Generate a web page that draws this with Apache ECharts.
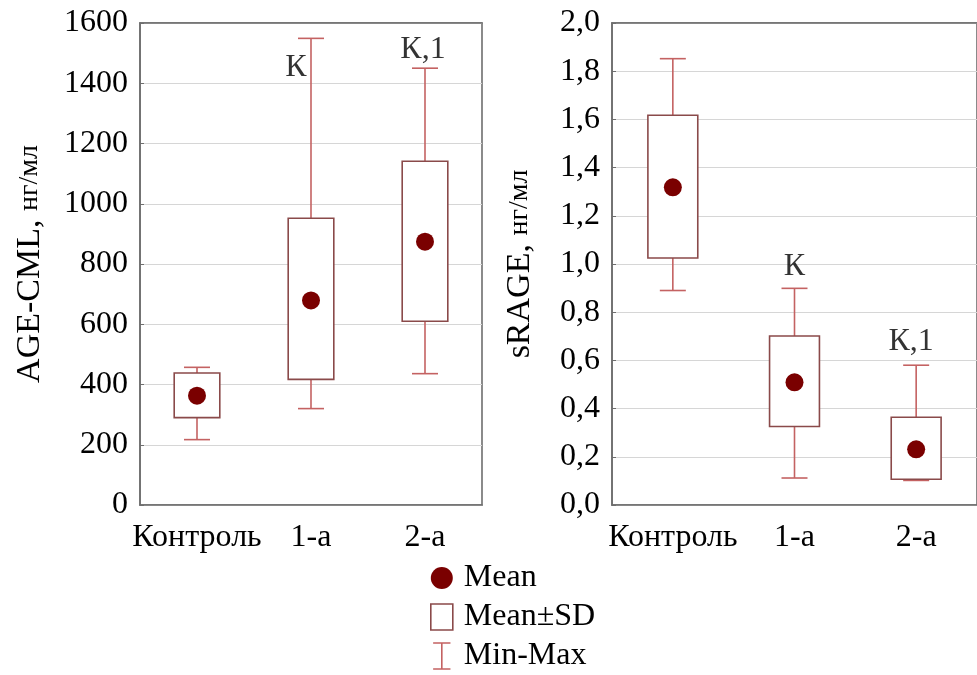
<!DOCTYPE html>
<html>
<head>
<meta charset="utf-8">
<script src="https://cdn.jsdelivr.net/npm/echarts@6/dist/echarts.min.js"></script>
<style>
html,body{margin:0;padding:0;background:#fff;}
#chart{width:977px;height:675px;}
</style>
</head>
<body>
<div id="chart"></div>
<script>
// ---- data ----
var categories = ['Контроль', '1-а', '2-а'];

// Left panel: AGE-CML, нг/мл
var ageMean = [363, 679, 874];
var ageSdLow = [290, 417, 610];
var ageSdHigh = [438, 952, 1141];
var ageMin = [217, 320, 436];
var ageMax = [457, 1549, 1450];
var ageNotes = ['', 'К', 'К,1'];
var ageTicks = [0, 200, 400, 600, 800, 1000, 1200, 1400, 1600];

// Right panel: sRAGE, нг/мл
var sragMean = [1.318, 0.509, 0.231];
var sragSdLow = [1.025, 0.326, 0.107];
var sragSdHigh = [1.617, 0.701, 0.364];
var sragMin = [0.890, 0.112, 0.102];
var sragMax = [1.852, 0.899, 0.580];
var sragNotes = ['', 'К', 'К,1'];
var sragTicks = [0, 0.2, 0.4, 0.6, 0.8, 1.0, 1.2, 1.4, 1.6, 1.8, 2.0];

// ---- styles ----
var SERIF = '"Liberation Serif","DejaVu Serif",serif';
var BOX_COLOR = '#8a4a4a';
var WHISK_COLOR = '#c46262';
var MEAN_COLOR = '#7a0000';
var AXIS_COLOR = '#6e6e6e';
var TEXT_COLOR = '#000000';
var FS = 32;

function whiskerRender() {
  return function (params, api) {
    var i = api.value(0);
    var pMax = api.coord([i, api.value(1)]);
    var pMin = api.coord([i, api.value(2)]);
    var pHi = api.coord([i, api.value(3)]);
    var pLo = api.coord([i, api.value(4)]);
    var capW = 26;
    var st = {stroke: WHISK_COLOR, lineWidth: 1.6, fill: null};
    return {
      type: 'group',
      children: [
        {type: 'line', shape: {x1: pMax[0], y1: pMax[1], x2: pHi[0], y2: pHi[1]}, style: st},
        {type: 'line', shape: {x1: pLo[0], y1: pLo[1], x2: pMin[0], y2: pMin[1]}, style: st},
        {type: 'line', shape: {x1: pMax[0] - capW / 2, y1: pMax[1], x2: pMax[0] + capW / 2, y2: pMax[1]}, style: st},
        {type: 'line', shape: {x1: pMin[0] - capW / 2, y1: pMin[1], x2: pMin[0] + capW / 2, y2: pMin[1]}, style: st}
      ]
    };
  };
}

function boxRender(frac) {
  return function (params, api) {
    var i = api.value(0);
    var pHi = api.coord([i, api.value(1)]);
    var pLo = api.coord([i, api.value(2)]);
    var band = api.size([1, 0])[0];
    var w = band * frac;
    return {
      type: 'rect',
      shape: {x: pHi[0] - w / 2, y: pHi[1], width: w, height: pLo[1] - pHi[1]},
      style: {fill: '#ffffff', stroke: BOX_COLOR, lineWidth: 1.6}
    };
  };
}

function build(mins, maxs, lows, highs) {
  var w = [], b = [];
  for (var i = 0; i < categories.length; i++) {
    w.push([i, maxs[i], mins[i], highs[i], lows[i]]);
    b.push([i, highs[i], lows[i]]);
  }
  return {w: w, b: b};
}

var L = build(ageMin, ageMax, ageSdLow, ageSdHigh);
var R = build(sragMin, sragMax, sragSdLow, sragSdHigh);

// label offsets relative to max whisker end (layout only)
var ageNoteOffsets = [[0, 0], [-15, 29], [-2, -19]];
var sragNoteOffsets = [[0, 0], [0, -22], [-5, -24]];

function noteData(maxs, notes, offs) {
  var d = [];
  for (var i = 0; i < categories.length; i++) {
    if (!notes[i]) continue;
    d.push({
      value: [i, maxs[i]],
      label: {formatter: notes[i], offset: offs[i]}
    });
  }
  return d;
}

var labelStyle = {fontFamily: SERIF, fontSize: FS, color: TEXT_COLOR};

function xAxisCfg(gi) {
  return {
    type: 'category', gridIndex: gi, data: categories,
    axisLine: {lineStyle: {color: AXIS_COLOR, width: 1.6}},
    axisTick: {inside: true, alignWithLabel: true, length: 4, lineStyle: {color: AXIS_COLOR}},
    axisLabel: {fontFamily: SERIF, fontSize: FS, color: TEXT_COLOR, margin: 17, interval: 0},
    splitLine: {show: false}
  };
}
function xTopCfg(gi) {
  return {
    type: 'category', gridIndex: gi, data: categories, position: 'top',
    axisLine: {lineStyle: {color: AXIS_COLOR, width: 1.6}},
    axisTick: {inside: true, alignWithLabel: true, length: 4, lineStyle: {color: AXIS_COLOR}},
    axisLabel: {show: false},
    splitLine: {show: false}
  };
}

var titleRich = {
  a: {fontFamily: SERIF, fontSize: 34, color: TEXT_COLOR},
  b: {fontFamily: SERIF, fontSize: 28, color: TEXT_COLOR}
};

var option = {
  backgroundColor: '#ffffff',
  animation: false,
  grid: [
    {left: 140, right: 495, top: 23, bottom: 170, show: true, borderColor: AXIS_COLOR, borderWidth: 1.6, containLabel: false},
    {left: 612, right: -5, top: 23, bottom: 170, show: true, borderColor: AXIS_COLOR, borderWidth: 1.6, containLabel: false}
  ],
  xAxis: [xAxisCfg(0), xAxisCfg(1), xTopCfg(0), xTopCfg(1)],
  yAxis: [
    {
      type: 'value', gridIndex: 0, min: 0, max: 1600, interval: 200,
      name: '{a|AGE-CML, }{b|нг/мл}', nameLocation: 'middle', nameGap: 93, nameRotate: 90,
      nameTextStyle: {rich: titleRich},
      axisLine: {show: true, lineStyle: {color: AXIS_COLOR, width: 1.6}},
      axisTick: {show: true, inside: true, length: 4, lineStyle: {color: AXIS_COLOR}},
      axisLabel: {fontFamily: SERIF, fontSize: FS, color: TEXT_COLOR, margin: 12,
        formatter: function (v) { return ageTicks.indexOf(v) >= 0 ? String(v) : ''; }},
      splitLine: {show: true, lineStyle: {color: '#d6d6d6', width: 1}}
    },
    {
      type: 'value', gridIndex: 1, min: 0, max: 2, interval: 0.2,
      name: '{a|sRAGE, }{b|нг/мл}', nameLocation: 'middle', nameGap: 75, nameRotate: 90,
      nameTextStyle: {rich: titleRich},
      axisLine: {show: true, lineStyle: {color: AXIS_COLOR, width: 1.6}},
      axisTick: {show: true, inside: true, length: 4, lineStyle: {color: AXIS_COLOR}},
      axisLabel: {fontFamily: SERIF, fontSize: FS, color: TEXT_COLOR, margin: 12,
        formatter: function (v) {
          var r = Math.round(v * 10) / 10;
          return sragTicks.indexOf(r) >= 0 ? r.toFixed(1).replace('.', ',') : '';
        }},
      splitLine: {show: true, lineStyle: {color: '#d6d6d6', width: 1}}
    }
  ],
  legend: {
    orient: 'vertical', left: 430, top: 561, padding: 0,
    itemWidth: 22, itemHeight: 26, itemGap: 5,
    height: 140,
    textStyle: {fontFamily: SERIF, fontSize: 32, lineHeight: 34, color: TEXT_COLOR, padding: [0, 0, 0, 6]},
    selectedMode: false,
    data: [
      {name: 'Mean', icon: 'path://M0,0 m-9,0 a9,9 0 1,0 18,0 a9,9 0 1,0 -18,0 Z', itemStyle: {color: MEAN_COLOR, opacity: 1}},
      {name: 'Mean±SD', icon: 'rect', itemStyle: {color: '#ffffff', borderColor: BOX_COLOR, borderWidth: 1.6}},
      {name: 'Min-Max', icon: 'path://M0,0 L20,0 M10,0 L10,30 M0,30 L20,30', itemStyle: {color: 'none', borderColor: WHISK_COLOR, borderWidth: 1.6}}
    ]
  },
  series: [
    {name: 'Min-Max', type: 'custom', xAxisIndex: 0, yAxisIndex: 0, renderItem: whiskerRender(), data: L.w, itemStyle: {color: WHISK_COLOR}, z: 2},
    {name: 'Mean±SD', type: 'custom', xAxisIndex: 0, yAxisIndex: 0, renderItem: boxRender(0.4), data: L.b, itemStyle: {color: BOX_COLOR}, z: 3},
    {name: 'Mean', type: 'scatter', xAxisIndex: 0, yAxisIndex: 0, data: ageMean.map(function (v, i) { return [i, v]; }),
      symbol: 'circle', symbolSize: 18, itemStyle: {color: MEAN_COLOR, opacity: 1}, z: 4},
    {name: 'notesL', type: 'scatter', xAxisIndex: 0, yAxisIndex: 0, symbolSize: 0, silent: true,
      data: noteData(ageMax, ageNotes, ageNoteOffsets),
      label: Object.assign({show: true, position: 'inside'}, labelStyle), z: 5},

    {name: 'Min-Max', type: 'custom', xAxisIndex: 1, yAxisIndex: 1, renderItem: whiskerRender(), data: R.w, itemStyle: {color: WHISK_COLOR}, z: 2},
    {name: 'Mean±SD', type: 'custom', xAxisIndex: 1, yAxisIndex: 1, renderItem: boxRender(0.41), data: R.b, itemStyle: {color: BOX_COLOR}, z: 3},
    {name: 'Mean', type: 'scatter', xAxisIndex: 1, yAxisIndex: 1, data: sragMean.map(function (v, i) { return [i, v]; }),
      symbol: 'circle', symbolSize: 18, itemStyle: {color: MEAN_COLOR, opacity: 1}, z: 4},
    {name: 'notesR', type: 'scatter', xAxisIndex: 1, yAxisIndex: 1, symbolSize: 0, silent: true,
      data: noteData(sragMax, sragNotes, sragNoteOffsets),
      label: Object.assign({show: true, position: 'inside'}, labelStyle), z: 5}
  ]
};

var chart = echarts.init(document.getElementById('chart'), null, {renderer: 'canvas'});
chart.setOption(option);
</script>
</body>
</html>
